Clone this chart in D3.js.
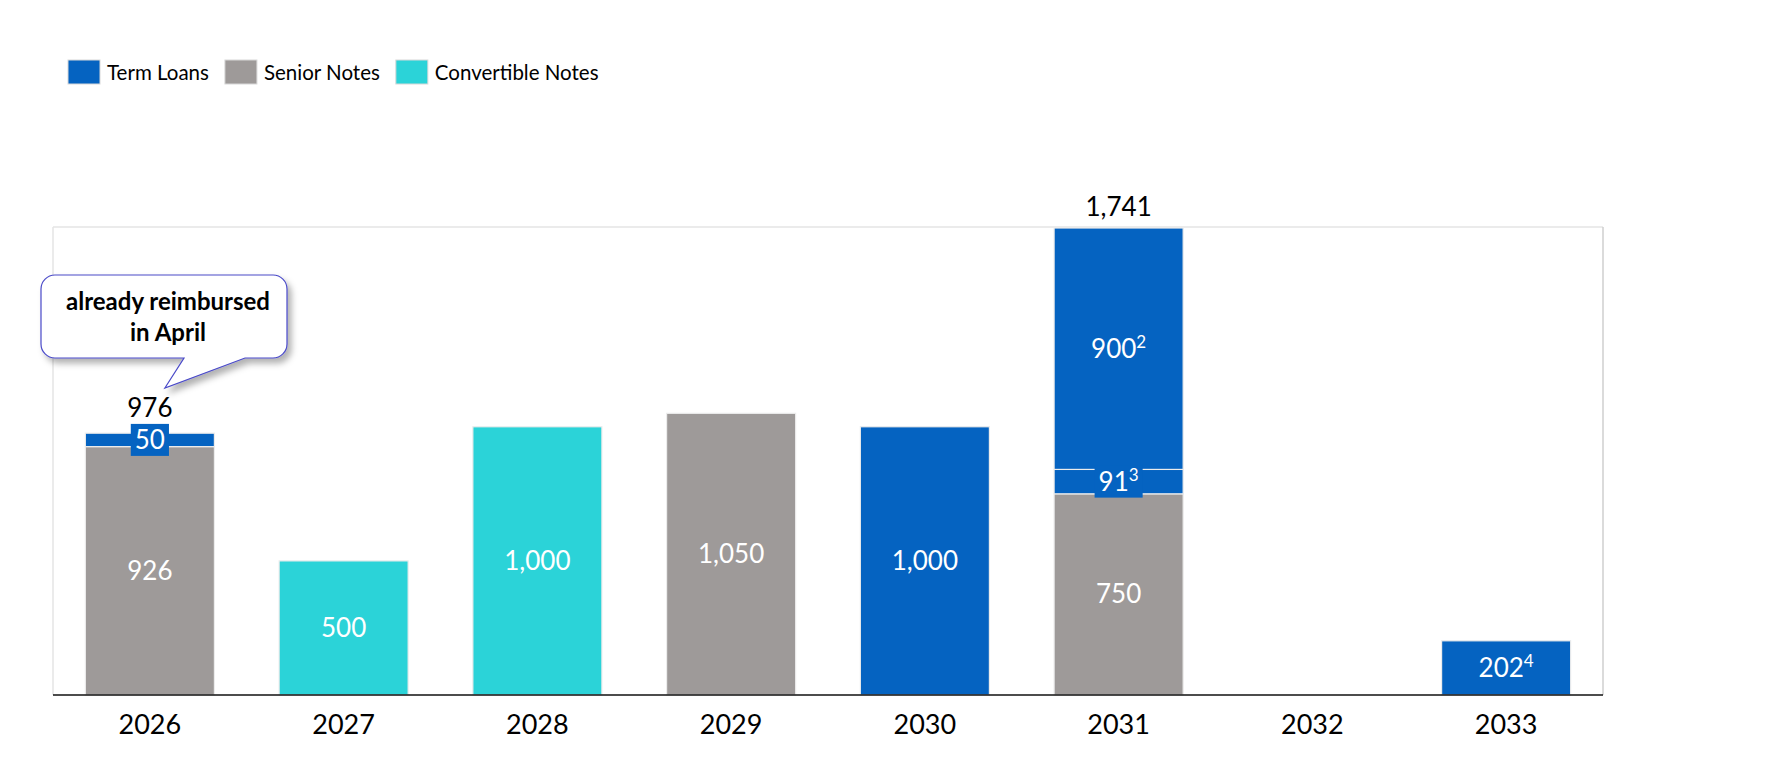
<!DOCTYPE html>
<html>
<head>
<meta charset="utf-8">
<script src="https://cdn.jsdelivr.net/npm/d3@7"></script>
<style>
  body { margin: 0; background: #fff; }
  text { font-family: Lato, "Open Sans", sans-serif; }
</style>
</head>
<body>
<svg id="chart" width="1787" height="775"></svg>
<script>
// data
const years = ['2026', '2027', '2028', '2029', '2030', '2031', '2032', '2033'];
const seniorNotes = [926, 0, 0, 1050, 0, 750, 0, 0];
const convertibleNotes = [0, 500, 1000, 0, 0, 0, 0, 0];
const termLoans = [50, 0, 0, 0, 1000, 91, 0, 202];
const termLoansLate = [0, 0, 0, 0, 0, 900, 0, 0];
const termNotes = ['', '', '', '', '', '3', '', '4'];
const termLateNotes = ['', '', '', '', '', '2', '', ''];
const totalYears = ['2026', '2031'];
const legendNames = ['Term Loans', 'Senior Notes', 'Convertible Notes'];
const calloutLines = ['already reimbursed', 'in April'];

const colors = {
  'Term Loans': '#0563c1',
  'Senior Notes': '#9e9a99',
  'Convertible Notes': '#2bd3d8'
};

const svg = d3.select('#chart');
const margin = { left: 53, right: 1603, top: 227, bottom: 695 };

// stack order bottom -> top
const series = [
  { key: 'senior', name: 'Senior Notes', values: seniorNotes, notes: null },
  { key: 'conv', name: 'Convertible Notes', values: convertibleNotes, notes: null },
  { key: 'term', name: 'Term Loans', values: termLoans, notes: termNotes },
  { key: 'termLate', name: 'Term Loans', values: termLoansLate, notes: termLateNotes }
];

const rows = years.map((y, i) => {
  const r = { year: y };
  series.forEach(s => { r[s.key] = s.values[i]; });
  return r;
});

const stacked = d3.stack().keys(series.map(s => s.key))(rows);
const totals = rows.map(r => d3.sum(series, s => r[s.key]));

const x = d3.scaleBand()
  .domain(years)
  .range([margin.left, margin.right])
  .paddingInner(0.334)
  .paddingOuter(0.167);

const y = d3.scaleLinear()
  .domain([0, d3.max(totals)])
  .range([margin.bottom, margin.top + 1]);

// plot frame
svg.append('line').attr('x1', margin.left).attr('x2', margin.right)
  .attr('y1', margin.top).attr('y2', margin.top)
  .style('stroke', '#e4e4e4').style('stroke-width', 1.5);
svg.append('line').attr('x1', margin.left).attr('x2', margin.left)
  .attr('y1', margin.top).attr('y2', margin.bottom)
  .style('stroke', '#e4e4e4').style('stroke-width', 1.5);
svg.append('line').attr('x1', margin.right).attr('x2', margin.right)
  .attr('y1', margin.top).attr('y2', margin.bottom)
  .style('stroke', '#cfcfcf').style('stroke-width', 1.5);

// bars
const layers = svg.append('g').attr('class', 'bars');
stacked.forEach((layer, li) => {
  const s = series[li];
  layers.selectAll('.seg-' + s.key)
    .data(layer.filter(d => d[1] - d[0] > 0))
    .enter().append('rect')
    .attr('class', 'seg-' + s.key)
    .attr('x', d => x(d.data.year))
    .attr('width', x.bandwidth())
    .attr('y', d => y(d[1]))
    .attr('height', d => y(d[0]) - y(d[1]))
    .style('fill', colors[s.name])
    .style('stroke', '#ececec')
    .style('stroke-width', 1.2);
});

// axis line + year labels
svg.append('line').attr('x1', margin.left).attr('x2', margin.right)
  .attr('y1', margin.bottom).attr('y2', margin.bottom)
  .style('stroke', '#111').style('stroke-width', 1.5);

svg.append('g').selectAll('text')
  .data(years)
  .enter().append('text')
  .attr('x', d => x(d) + x.bandwidth() / 2)
  .attr('y', margin.bottom + 39)
  .attr('text-anchor', 'middle')
  .style('font-size', '27px')
  .style('fill', '#000')
  .text(d => d);

// segment labels
const labelG = svg.append('g');
const boxTops = {};
stacked.forEach((layer, li) => {
  const s = series[li];
  layer.forEach((d, i) => {
    const v = d[1] - d[0];
    if (v <= 0) return;
    const cx = x(d.data.year) + x.bandwidth() / 2;
    const cy = (y(d[0]) + y(d[1])) / 2;
    const g = labelG.append('g');
    const t = g.append('text')
      .attr('x', cx)
      .attr('y', cy + 9)
      .attr('text-anchor', 'middle')
      .style('font-size', '26px')
      .style('fill', '#fff');
    t.append('tspan').text(d3.format(',')(v));
    const note = s.notes ? s.notes[i] : '';
    if (note) {
      t.append('tspan').attr('dy', -10).style('font-size', '17px').text(note);
    }
    const segH = y(d[0]) - y(d[1]);
    if (segH < 30) {
      // thin segment: label gets its own coloured box
      const bb = t.node().getBBox();
      const bx = bb.x - 4, bw = bb.width + 8, bh = 32;
      g.insert('rect', 'text')
        .attr('x', bx).attr('y', cy - bh / 2)
        .attr('width', bw).attr('height', bh)
        .style('fill', colors[s.name]);
      boxTops[d.data.year] = Math.min(boxTops[d.data.year] || 1e9, cy - bh / 2);
    }
  });
});

// totals above selected bars
svg.append('g').selectAll('text')
  .data(years.map((yr, i) => ({ year: yr, total: totals[i] })).filter(d => totalYears.includes(d.year)))
  .enter().append('text')
  .attr('x', d => x(d.year) + x.bandwidth() / 2)
  .attr('y', d => Math.min(y(d.total) - 12, (boxTops[d.year] || 1e9) - 7))
  .attr('text-anchor', 'middle')
  .style('font-size', '26px')
  .style('fill', '#000')
  .text(d => d3.format(',')(d.total));

// legend
const legend = svg.append('g').attr('transform', 'translate(68,60)');
let lx = 0;
legendNames.forEach(name => {
  const item = legend.append('g').attr('transform', `translate(${lx},0)`);
  item.append('rect').attr('width', 32).attr('height', 24)
    .style('fill', colors[name]).style('stroke', '#d8d8d8').style('stroke-width', 1);
  const t = item.append('text').attr('x', 39).attr('y', 20)
    .style('font-size', '20.5px').style('fill', '#000').text(name);
  lx += 39 + t.node().getComputedTextLength() + 16;
});

// callout bubble pointing at the 2026 total
const defs = svg.append('defs');
const f = defs.append('filter').attr('id', 'shadow')
  .attr('x', '-10%').attr('y', '-10%').attr('width', '130%').attr('height', '140%');
f.append('feDropShadow').attr('dx', 4).attr('dy', 5).attr('stdDeviation', 3)
  .attr('flood-color', '#000').attr('flood-opacity', 0.3);

const bx0 = 41, by0 = 275, bx1 = 287, by1 = 358, r = 14;
const tip = [x('2026') + x.bandwidth() / 2 + 15, 388];
const bubble = d3.path();
bubble.moveTo(bx0 + r, by0);
bubble.lineTo(bx1 - r, by0);
bubble.arcTo(bx1, by0, bx1, by0 + r, r);
bubble.lineTo(bx1, by1 - r);
bubble.arcTo(bx1, by1, bx1 - r, by1, r);
bubble.lineTo(245, by1);
bubble.lineTo(tip[0], tip[1]);
bubble.lineTo(184, by1);
bubble.lineTo(bx0 + r, by1);
bubble.arcTo(bx0, by1, bx0, by1 - r, r);
bubble.lineTo(bx0, by0 + r);
bubble.arcTo(bx0, by0, bx0 + r, by0, r);
bubble.closePath();

svg.append('path')
  .attr('d', bubble.toString())
  .attr('filter', 'url(#shadow)')
  .style('fill', '#fff')
  .style('stroke', '#4a4ac8')
  .style('stroke-width', 1.2);

svg.append('g').selectAll('text')
  .data(calloutLines)
  .enter().append('text')
  .attr('x', (bx0 + bx1) / 2 + 4)
  .attr('y', (d, i) => 310 + i * 31)
  .attr('text-anchor', 'middle')
  .style('font-size', '24px')
  .style('font-weight', 'bold')
  .style('fill', '#000')
  .text(d => d);
</script>
</body>
</html>
